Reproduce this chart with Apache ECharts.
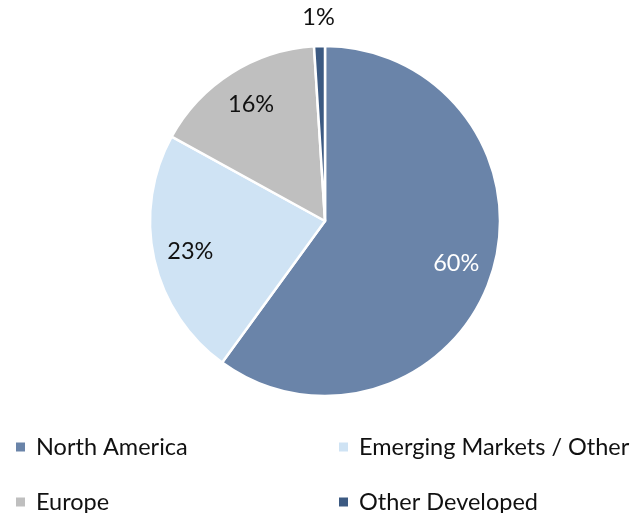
<!DOCTYPE html>
<html>
<head>
<meta charset="utf-8">
<script src="https://cdn.jsdelivr.net/npm/echarts@6/dist/echarts.min.js"></script>
<style>
  html, body { margin: 0; padding: 0; background: #fff; }
  #chart { width: 637px; height: 513px; }
</style>
</head>
<body>
<div id="chart"></div>
<script>
// 数据
const categories = ['North America', 'Emerging Markets / Other', 'Europe', 'Other Developed']
const values = [60, 23, 16, 1]
const colors = ['#6a84a9', '#cfe3f4', '#bfbfbf', '#3c5a82']
const labelColors = ['#ffffff', '#111111', '#111111', '#111111']

const FONT = 'Lato'
const CENTER = [325, 221]

const chart = echarts.init(document.getElementById('chart'))

const pieData = categories.map((name, i) => ({
  name,
  value: values[i],
  itemStyle: { color: colors[i] }
}))

// 标签用透明的环形系列放置；outer=true 的只显示小扇区的标签（饼外）
const labelData = (outer) => categories.map((name, i) => ({
  name,
  value: values[i],
  label: { show: outer ? i === 3 : i !== 3, color: labelColors[i] }
}))

const labelSeries = (radius, outer) => ({
  type: 'pie',
  center: CENTER,
  radius,
  startAngle: 90,
  clockwise: true,
  silent: true,
  legendHoverLink: false,
  itemStyle: { color: 'rgba(0,0,0,0)' },
  label: {
    position: 'inside',
    formatter: '{c}%',
    fontFamily: FONT,
    fontSize: 23.5
  },
  labelLine: { show: false },
  data: labelData(outer)
})

const legendItem = (name, left, top) => ({
  data: [name],
  left,
  top,
  itemWidth: 11,
  itemHeight: 11,
  icon: 'rect',
  textStyle: { fontFamily: FONT, fontSize: 23.5, color: '#111', padding: [0, 0, 0, 5] }
})

chart.setOption({
  animation: false,
  legend: [
    legendItem(categories[0], 9, 430),
    legendItem(categories[1], 332, 430),
    legendItem(categories[2], 9, 485),
    legendItem(categories[3], 332, 485)
  ],
  series: [
    {
      type: 'pie',
      center: CENTER,
      radius: [0, 175],
      startAngle: 90,
      clockwise: true,
      label: { show: false },
      labelLine: { show: false },
      itemStyle: { borderColor: '#fff', borderWidth: 2.5 },
      data: pieData
    },
    labelSeries([95, 175], false),
    labelSeries([190, 212], true)
  ]
})
</script>
</body>
</html>
